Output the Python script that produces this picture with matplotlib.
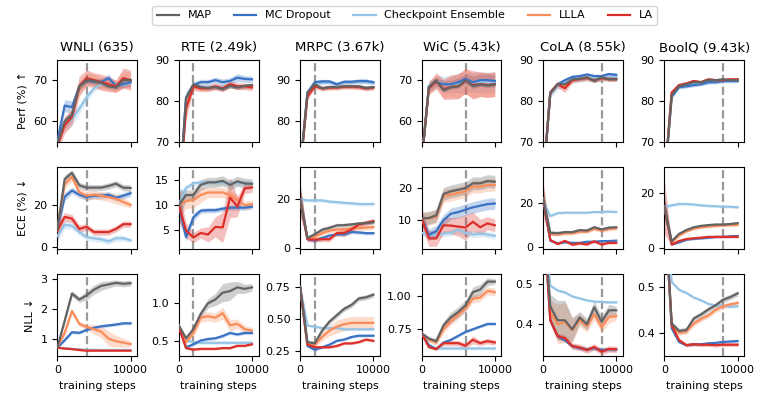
import numpy as np
import matplotlib
matplotlib.use('Agg')
import matplotlib.pyplot as plt
from matplotlib.lines import Line2D

# training steps
steps = [0, 1000, 2000, 3000, 4000, 5000, 6000, 7000, 8000, 9000, 10000]

methods = ['MAP', 'MC Dropout', 'Checkpoint Ensemble', 'LLLA', 'LA']
colors = ['#636363', '#3b73c4', '#95c4e6', '#fb8c5a', '#dc2f2a']

tasks = ['WNLI (635)', 'RTE (2.49k)', 'MRPC (3.67k)', 'WiC (5.43k)', 'CoLA (8.55k)', 'BoolQ (9.43k)']
best_step = [4000, 2000, 2000, 6000, 8000, 8000]
metrics = ['Perf (%) ↑', 'ECE (%) ↓', 'NLL ↓']

# ---- Perf (%) : rows = MAP, MC Dropout, Checkpoint Ensemble, LLLA, LA
wnli_perf = [[54.5, 60.0, 61.5, 68.5, 70.0, 69.8, 69.3, 68.5, 68.2, 70.0, 70.0],
             [55.0, 63.8, 63.4, 68.5, 70.0, 69.6, 69.6, 70.5, 68.6, 69.0, 69.5],
             [55.0, 59.0, 60.5, 63.0, 65.8, 68.0, 69.0, 69.0, 69.0, 68.8, 69.3],
             [54.5, 59.5, 61.3, 68.3, 70.3, 70.0, 69.3, 69.0, 68.5, 70.3, 70.0],
             [54.0, 59.0, 61.0, 68.5, 70.5, 70.0, 69.5, 69.0, 68.5, 70.5, 70.0]]
wnli_perf_sd = [[1, 1, 1, 0.8, 0.7, 0.6, 0.6, 0.6, 0.6, 0.6, 0.6],
                [1, 1.5, 1.5, 1, 0.8, 0.8, 0.8, 1, 0.8, 0.8, 0.8],
                [1, 1.5, 1.5, 1.2, 1, 0.8, 0.8, 0.8, 0.8, 0.8, 0.8],
                [1, 1.5, 1.5, 1.5, 1.5, 1.5, 1.5, 1.5, 1.5, 2, 2],
                [1.5, 2, 2, 2.5, 2, 1.8, 2, 1.8, 1.5, 2.5, 2.5]]
rte_perf = [[55, 80.5, 84.0, 83.3, 83.1, 83.3, 82.8, 83.6, 83.2, 83.6, 83.8],
            [55, 80.8, 83.8, 84.5, 84.5, 85.0, 84.5, 84.8, 85.6, 85.3, 85.2],
            [55, 80.0, 83.5, 83.3, 83.3, 83.4, 83.3, 83.5, 83.5, 83.5, 83.6],
            [55, 79.0, 83.5, 83.0, 83.0, 83.3, 82.9, 83.8, 83.4, 83.5, 83.4],
            [55, 78.0, 83.5, 83.0, 83.0, 83.5, 83.0, 84.0, 83.5, 83.5, 83.2]]
rte_perf_sd = [[1, 0.8, 0.5, 0.5, 0.5, 0.5, 0.5, 0.5, 0.5, 0.5, 0.5],
               [1, 1.5, 0.8, 0.7, 0.7, 0.7, 0.8, 0.8, 1.0, 0.8, 0.8],
               [1, 1, 0.5, 0.5, 0.5, 0.5, 0.5, 0.5, 0.5, 0.5, 0.5],
               [1, 1.5, 0.6, 0.6, 0.6, 0.6, 0.6, 0.6, 0.6, 0.6, 0.6],
               [1, 2.5, 1, 0.8, 0.8, 0.8, 0.8, 0.8, 0.8, 0.8, 0.8]]
mrpc_perf = [[68, 87.0, 89.0, 88.0, 88.3, 88.3, 88.5, 88.5, 88.5, 88.1, 88.3],
             [68, 87.0, 89.5, 89.7, 89.7, 89.0, 89.6, 89.6, 89.8, 89.8, 89.5],
             [68, 86.8, 89.3, 89.3, 89.4, 89.0, 89.3, 89.4, 89.5, 89.5, 89.3],
             [68, 86.5, 88.8, 88.0, 88.2, 88.3, 88.5, 88.4, 88.4, 88.1, 88.2],
             [68, 86.0, 88.5, 88.0, 88.2, 88.2, 88.4, 88.4, 88.3, 88.0, 88.2]]
mrpc_perf_sd = [[1, 0.5, 0.4, 0.4, 0.4, 0.4, 0.4, 0.4, 0.4, 0.4, 0.4],
                [1, 0.5, 0.5, 0.5, 0.5, 0.5, 0.5, 0.5, 0.5, 0.5, 0.5],
                [1, 0.5, 0.5, 0.5, 0.5, 0.5, 0.5, 0.5, 0.5, 0.5, 0.5],
                [1, 0.5, 0.5, 0.5, 0.5, 0.5, 0.5, 0.5, 0.5, 0.5, 0.5],
                [1, 0.8, 0.6, 0.6, 0.6, 0.6, 0.6, 0.6, 0.6, 0.6, 0.6]]
wic_perf = [[50, 68.3, 70.0, 67.5, 68.3, 68.5, 70.0, 68.6, 69.0, 68.7, 69.0],
            [50, 68.5, 69.5, 69.0, 69.0, 69.5, 70.3, 69.5, 70.0, 70.0, 69.8],
            [50, 68.5, 69.7, 69.0, 69.0, 69.3, 69.5, 69.5, 69.5, 69.5, 69.5],
            [50, 68.2, 69.8, 67.7, 68.3, 68.5, 69.8, 68.7, 69.0, 68.8, 69.0],
            [50, 68.0, 69.8, 67.8, 68.3, 68.5, 69.8, 68.8, 69.0, 68.8, 69.0]]
wic_perf_sd = [[1, 0.5, 0.5, 0.5, 0.5, 0.5, 0.5, 0.5, 0.5, 0.5, 0.5],
               [1, 1, 1, 1, 1, 1, 1.2, 1.5, 1.5, 1.5, 1.5],
               [1, 1.5, 1.5, 2, 2, 2.5, 2.5, 2.5, 2.5, 2.5, 2.5],
               [1, 1.5, 1.5, 2, 2.5, 3, 3, 3, 3, 3, 3],
               [1, 1.5, 2, 2.5, 3, 3, 3, 3.5, 3, 3, 3]]
cola_perf = [[60, 81.8, 84.0, 84.0, 85.2, 85.3, 85.7, 84.8, 85.7, 85.2, 85.2],
             [60, 82.0, 84.0, 85.0, 85.8, 86.0, 86.4, 86.0, 86.0, 86.5, 86.3],
             [60, 81.5, 83.5, 84.3, 85.0, 85.3, 85.5, 85.5, 85.5, 85.8, 85.8],
             [60, 81.8, 84.0, 83.5, 85.0, 85.3, 85.6, 84.9, 85.6, 85.3, 85.2],
             [60, 82.0, 84.0, 83.0, 85.0, 85.3, 85.5, 85.0, 85.5, 85.3, 85.3]]
cola_perf_sd = [[1, 0.4, 0.4, 0.4, 0.4, 0.4, 0.4, 0.4, 0.4, 0.4, 0.4],
                [1, 0.4, 0.4, 0.4, 0.4, 0.4, 0.4, 0.4, 0.4, 0.4, 0.4],
                [1, 0.8, 0.8, 0.8, 0.8, 0.8, 0.8, 0.8, 0.8, 0.8, 0.8],
                [1, 0.5, 0.5, 0.5, 0.5, 0.5, 0.5, 0.5, 0.5, 0.5, 0.5],
                [1, 0.8, 0.8, 1, 0.6, 0.6, 0.6, 0.6, 0.6, 0.6, 0.6]]
boolq_perf = [[60, 81.3, 83.5, 84.0, 84.5, 84.5, 85.0, 85.0, 85.2, 85.0, 85.0],
              [60, 81.0, 83.3, 83.5, 83.8, 84.0, 84.5, 84.5, 84.8, 84.8, 84.8],
              [60, 81.0, 83.3, 83.7, 84.0, 84.2, 84.5, 84.7, 84.8, 84.8, 84.8],
              [60, 81.8, 83.7, 84.1, 84.7, 84.5, 85.1, 85.0, 85.1, 85.1, 85.1],
              [60, 82.0, 83.8, 84.2, 84.8, 84.5, 85.2, 85.0, 85.0, 85.2, 85.2]]
boolq_perf_sd = [[1, 0.3, 0.3, 0.3, 0.3, 0.3, 0.3, 0.3, 0.3, 0.3, 0.3],
                 [1, 0.4, 0.4, 0.4, 0.4, 0.4, 0.4, 0.4, 0.4, 0.4, 0.4],
                 [1, 0.5, 0.5, 0.5, 0.5, 0.5, 0.5, 0.5, 0.5, 0.5, 0.5],
                 [1, 0.3, 0.3, 0.3, 0.3, 0.3, 0.3, 0.3, 0.3, 0.3, 0.3],
                 [1, 0.4, 0.4, 0.4, 0.4, 0.4, 0.4, 0.4, 0.4, 0.4, 0.4]]

# ---- ECE (%)
wnli_ece = [[8, 32.5, 35.5, 29.5, 28.4, 28.4, 28.4, 29.2, 30.3, 28.4, 28.2],
            [8, 24.0, 27.0, 25.0, 23.8, 24.5, 24.5, 25.0, 23.5, 24.5, 25.7],
            [5, 10.5, 10.0, 7.0, 4.5, 4.0, 3.5, 2.5, 4.0, 4.0, 3.0],
            [8, 30.0, 33.5, 26.2, 24.5, 25.0, 24.5, 23.8, 23.0, 21.5, 20.0],
            [7.5, 14.3, 13.5, 8.5, 9.5, 7.0, 7.0, 7.0, 8.5, 10.8, 10.8]]
wnli_ece_sd = [[5, 2, 1.5, 1.5, 1.5, 1.5, 1.5, 1.5, 1.5, 1.5, 1.5],
               [4, 2, 1.5, 1.5, 1.5, 1.5, 1.5, 1.5, 1.5, 1.5, 1.5],
               [3, 2, 1.5, 1.5, 1.5, 1.5, 1.5, 1.5, 1.5, 1.5, 1],
               [5, 2, 2, 2, 2, 2, 2, 2, 2.5, 2, 1.5],
               [4, 2, 2, 2, 1.5, 1.5, 1.5, 1.5, 1.5, 1.5, 1.5]]
rte_ece = [[10, 12.0, 12.0, 14.0, 14.5, 14.5, 14.8, 14.0, 14.7, 14.3, 14.2],
           [10, 3.7, 7.6, 8.9, 9.0, 9.0, 9.3, 9.5, 9.5, 9.5, 9.7],
           [10, 13.4, 14.3, 14.5, 14.5, 14.5, 14.5, 14.3, 14.4, 14.4, 14.3],
           [10, 10.8, 11.0, 12.0, 12.5, 12.5, 12.5, 12.0, 11.0, 10.0, 10.2],
           [10, 5.0, 3.6, 4.5, 4.2, 5.7, 5.6, 11.5, 9.7, 13.3, 13.5]]
rte_ece_sd = [[3, 1, 1, 1, 1, 1, 1, 1, 1, 1, 1],
              [3, 0.8, 0.8, 0.5, 0.5, 0.5, 0.5, 0.5, 0.5, 0.5, 0.5],
              [3, 0.5, 0.5, 0.5, 0.5, 0.5, 0.5, 0.5, 0.5, 0.5, 0.5],
              [3, 1.5, 1.5, 1.5, 1, 1, 1, 1, 1, 0.8, 0.8],
              [3, 1.5, 1, 1, 1.5, 2, 3, 4, 2, 1, 1]]
mrpc_ece = [[20, 4.0, 5.5, 7.4, 8.2, 9.2, 9.3, 9.6, 10.0, 10.1, 10.5],
            [20, 3.5, 3.0, 4.0, 5.0, 5.5, 5.5, 6.5, 6.3, 6.0, 6.0],
            [20, 19.5, 19.5, 19.5, 19.0, 18.8, 18.5, 18.3, 18.0, 18.0, 18.0],
            [20, 3.5, 4.5, 6.0, 7.0, 7.5, 7.6, 8.0, 8.1, 8.3, 8.5],
            [20, 3.5, 3.3, 3.5, 3.5, 6.0, 6.1, 7.5, 9.5, 10.3, 11.0]]
mrpc_ece_sd = [[6, 1, 1, 1, 0.8, 0.8, 0.8, 0.8, 0.8, 0.8, 0.8],
               [5, 0.7, 0.7, 0.7, 0.7, 0.7, 0.7, 0.7, 0.7, 0.7, 0.7],
               [1, 0.7, 0.7, 0.7, 0.7, 0.7, 0.7, 0.7, 0.7, 0.7, 0.7],
               [5, 1, 1, 1, 1, 1, 1, 1, 1, 1, 1],
               [7, 1, 1, 1, 1, 1, 1.5, 1.5, 1, 1, 1]]
wic_ece = [[10.5, 10.7, 11.5, 18.2, 19.0, 19.5, 20.0, 21.5, 21.5, 22.2, 22.0],
           [10.5, 5.4, 6.6, 10.0, 12.0, 12.5, 13.3, 14.0, 14.5, 15.0, 15.2],
           [6.0, 5.5, 5.4, 5.8, 6.0, 7.0, 6.0, 5.5, 5.8, 5.5, 5.1],
           [10.5, 10.5, 11.0, 17.5, 18.0, 18.5, 19.0, 20.5, 20.5, 21.0, 21.0],
           [10.5, 4.3, 4.3, 8.4, 8.3, 8.0, 7.7, 9.5, 7.8, 9.0, 8.4]]
wic_ece_sd = [[2, 2, 2, 2, 2, 2, 2, 2, 2, 2, 2],
              [1.8, 1.8, 1.8, 1.8, 1.8, 1.8, 1.8, 1.8, 1.8, 1.8, 1.8],
              [1, 1, 1, 1, 1, 1, 1, 1, 1, 1, 1],
              [2, 2, 2, 2, 2, 2, 2, 2, 2, 2, 2],
              [3, 2.5, 2.5, 2.5, 2.5, 3, 4, 3, 2.5, 2, 2]]
cola_ece = [[22, 6.5, 6.3, 6.8, 6.8, 7.7, 7.5, 9.0, 8.0, 8.8, 9.0],
            [22, 3.0, 1.8, 2.3, 2.0, 2.0, 2.5, 2.5, 2.8, 2.8, 3.0],
            [21, 14.0, 15.3, 15.5, 15.5, 15.5, 15.5, 15.8, 15.8, 16.0, 15.8],
            [22, 6.0, 5.8, 6.3, 6.3, 7.0, 7.0, 8.3, 7.5, 8.2, 8.5],
            [22, 3.3, 1.5, 2.9, 1.2, 1.8, 1.3, 2.7, 1.3, 2.0, 2.0]]
cola_ece_sd = [[6, 1, 1, 0.8, 0.8, 0.8, 0.8, 0.8, 0.8, 0.8, 0.8],
               [5, 0.5, 0.5, 0.5, 0.5, 0.5, 0.5, 0.5, 0.5, 0.5, 0.5],
               [2, 0.5, 0.5, 0.5, 0.5, 0.5, 0.5, 0.5, 0.5, 0.5, 0.5],
               [6, 0.8, 0.8, 0.8, 0.8, 0.8, 0.8, 0.8, 0.8, 0.8, 0.8],
               [8, 0.6, 0.6, 0.6, 0.6, 0.6, 0.6, 0.6, 0.6, 0.6, 0.6]]
boolq_ece = [[15, 2.4, 5.1, 6.5, 7.5, 8.0, 8.3, 8.5, 8.5, 8.7, 9.0],
             [15, 1.3, 2.0, 3.0, 3.3, 3.5, 3.7, 4.0, 4.0, 4.2, 4.3],
             [15, 15.5, 16.0, 16.0, 15.8, 15.5, 15.3, 15.2, 15.0, 15.0, 14.8],
             [15, 2.0, 4.5, 6.0, 7.0, 7.5, 7.8, 8.0, 8.2, 8.3, 8.4],
             [15, 1.2, 2.5, 3.2, 3.5, 3.7, 4.0, 4.0, 4.0, 4.0, 4.0]]
boolq_ece_sd = [[5, 0.5, 0.5, 0.5, 0.5, 0.5, 0.5, 0.5, 0.5, 0.5, 0.5],
                [4, 0.4, 0.4, 0.4, 0.4, 0.4, 0.4, 0.4, 0.4, 0.4, 0.4],
                [1, 0.5, 0.5, 0.5, 0.5, 0.5, 0.5, 0.5, 0.5, 0.5, 0.5],
                [5, 0.5, 0.5, 0.5, 0.5, 0.5, 0.5, 0.5, 0.5, 0.5, 0.5],
                [10, 0.4, 0.4, 0.4, 0.4, 0.4, 0.4, 0.4, 0.4, 0.4, 0.4]]

# ---- NLL
wnli_nll = [[0.7, 1.6, 2.52, 2.32, 2.46, 2.65, 2.78, 2.83, 2.88, 2.85, 2.87],
            [0.7, 0.95, 1.22, 1.2, 1.3, 1.37, 1.42, 1.45, 1.48, 1.52, 1.52],
            [0.7, 0.68, 0.66, 0.65, 0.63, 0.63, 0.62, 0.62, 0.62, 0.62, 0.62],
            [0.7, 1.2, 1.93, 1.5, 1.4, 1.32, 1.24, 1.0, 0.92, 0.87, 0.82],
            [0.7, 0.67, 0.65, 0.62, 0.6, 0.6, 0.6, 0.6, 0.6, 0.6, 0.6]]
wnli_nll_sd = [[0.03, 0.1, 0.1, 0.1, 0.15, 0.15, 0.15, 0.12, 0.1, 0.1, 0.1],
               [0.03, 0.05, 0.05, 0.05, 0.05, 0.05, 0.05, 0.05, 0.05, 0.05, 0.05],
               [0.02, 0.02, 0.02, 0.02, 0.02, 0.02, 0.02, 0.02, 0.02, 0.02, 0.02],
               [0.03, 0.1, 0.1, 0.08, 0.1, 0.15, 0.2, 0.25, 0.2, 0.15, 0.1],
               [0.02, 0.02, 0.02, 0.02, 0.02, 0.02, 0.02, 0.02, 0.02, 0.02, 0.02]]
rte_nll = [[0.7, 0.53, 0.65, 0.85, 0.99, 1.04, 1.13, 1.15, 1.2, 1.18, 1.2],
           [0.7, 0.41, 0.45, 0.5, 0.52, 0.53, 0.56, 0.6, 0.58, 0.6, 0.6],
           [0.7, 0.5, 0.48, 0.47, 0.47, 0.47, 0.47, 0.47, 0.47, 0.47, 0.47],
           [0.7, 0.48, 0.6, 0.8, 0.82, 0.8, 0.86, 0.7, 0.72, 0.65, 0.63],
           [0.68, 0.4, 0.38, 0.39, 0.39, 0.39, 0.4, 0.4, 0.43, 0.43, 0.45]]
rte_nll_sd = [[0.02, 0.03, 0.05, 0.05, 0.06, 0.08, 0.12, 0.12, 0.08, 0.06, 0.05],
              [0.02, 0.02, 0.02, 0.02, 0.02, 0.02, 0.02, 0.02, 0.02, 0.02, 0.02],
              [0.02, 0.02, 0.02, 0.02, 0.02, 0.02, 0.02, 0.02, 0.02, 0.02, 0.02],
              [0.02, 0.03, 0.05, 0.06, 0.06, 0.06, 0.08, 0.08, 0.06, 0.05, 0.04],
              [0.015, 0.015, 0.015, 0.015, 0.015, 0.015, 0.015, 0.015, 0.015, 0.015, 0.015]]
mrpc_nll = [[0.75, 0.32, 0.31, 0.41, 0.48, 0.53, 0.58, 0.61, 0.66, 0.67, 0.69],
            [0.75, 0.29, 0.26, 0.28, 0.3, 0.33, 0.34, 0.36, 0.37, 0.37, 0.37],
            [0.75, 0.45, 0.44, 0.43, 0.43, 0.43, 0.42, 0.42, 0.42, 0.42, 0.42],
            [0.75, 0.3, 0.3, 0.36, 0.41, 0.44, 0.46, 0.47, 0.47, 0.47, 0.47],
            [0.75, 0.3, 0.28, 0.28, 0.28, 0.29, 0.31, 0.31, 0.32, 0.34, 0.33]]
mrpc_nll_sd = [[0.02, 0.015, 0.02, 0.02, 0.02, 0.02, 0.02, 0.02, 0.02, 0.02, 0.02],
               [0.02, 0.01, 0.01, 0.01, 0.01, 0.01, 0.01, 0.01, 0.01, 0.01, 0.01],
               [0.02, 0.01, 0.01, 0.01, 0.01, 0.01, 0.01, 0.01, 0.01, 0.01, 0.01],
               [0.02, 0.01, 0.02, 0.03, 0.04, 0.05, 0.05, 0.05, 0.05, 0.05, 0.05],
               [0.02, 0.01, 0.01, 0.01, 0.01, 0.01, 0.01, 0.01, 0.01, 0.01, 0.01]]
wic_nll = [[0.72, 0.68, 0.66, 0.78, 0.84, 0.88, 0.93, 1.03, 1.05, 1.11, 1.11],
           [0.72, 0.63, 0.6, 0.65, 0.67, 0.7, 0.73, 0.75, 0.77, 0.79, 0.79],
           [0.72, 0.62, 0.605, 0.605, 0.605, 0.605, 0.605, 0.605, 0.605, 0.605, 0.605],
           [0.72, 0.67, 0.65, 0.75, 0.81, 0.86, 0.91, 0.98, 0.99, 1.04, 1.03],
           [0.72, 0.615, 0.6, 0.645, 0.645, 0.645, 0.625, 0.67, 0.645, 0.66, 0.65]]
wic_nll_sd = [[0.01, 0.01, 0.02, 0.03, 0.04, 0.04, 0.04, 0.04, 0.04, 0.03, 0.02],
              [0.01, 0.01, 0.01, 0.01, 0.01, 0.01, 0.01, 0.01, 0.01, 0.01, 0.01],
              [0.01, 0.01, 0.01, 0.01, 0.01, 0.01, 0.01, 0.01, 0.01, 0.01, 0.01],
              [0.01, 0.02, 0.02, 0.03, 0.03, 0.03, 0.03, 0.03, 0.03, 0.03, 0.03],
              [0.01, 0.01, 0.01, 0.02, 0.02, 0.02, 0.02, 0.03, 0.02, 0.02, 0.02]]
cola_nll = [[0.69, 0.445, 0.41, 0.41, 0.387, 0.417, 0.4, 0.443, 0.406, 0.435, 0.435],
            [0.69, 0.41, 0.37, 0.36, 0.345, 0.34, 0.337, 0.34, 0.335, 0.337, 0.337],
            [0.69, 0.497, 0.485, 0.48, 0.47, 0.465, 0.46, 0.457, 0.456, 0.455, 0.455],
            [0.69, 0.43, 0.4, 0.405, 0.385, 0.41, 0.395, 0.425, 0.393, 0.418, 0.42],
            [0.69, 0.41, 0.37, 0.365, 0.345, 0.342, 0.335, 0.343, 0.331, 0.338, 0.337]]
cola_nll_sd = [[0.02, 0.03, 0.05, 0.05, 0.03, 0.015, 0.015, 0.015, 0.015, 0.015, 0.01],
               [0.02, 0.005, 0.005, 0.005, 0.005, 0.005, 0.005, 0.005, 0.005, 0.005, 0.005],
               [0.02, 0.003, 0.003, 0.003, 0.003, 0.003, 0.003, 0.003, 0.003, 0.003, 0.003],
               [0.02, 0.03, 0.05, 0.05, 0.03, 0.015, 0.015, 0.015, 0.015, 0.015, 0.01],
               [0.02, 0.008, 0.008, 0.008, 0.008, 0.008, 0.008, 0.008, 0.008, 0.008, 0.008]]
boolq_nll = [[0.69, 0.42, 0.404, 0.406, 0.431, 0.44, 0.451, 0.46, 0.472, 0.478, 0.486],
             [0.69, 0.41, 0.38, 0.373, 0.375, 0.375, 0.377, 0.378, 0.38, 0.381, 0.382],
             [0.69, 0.511, 0.494, 0.487, 0.477, 0.471, 0.463, 0.46, 0.459, 0.457, 0.458],
             [0.69, 0.415, 0.4, 0.403, 0.42, 0.43, 0.438, 0.45, 0.458, 0.462, 0.465],
             [0.69, 0.417, 0.384, 0.373, 0.375, 0.374, 0.374, 0.373, 0.374, 0.374, 0.374]]
boolq_nll_sd = [[0.02, 0.006, 0.006, 0.006, 0.006, 0.006, 0.006, 0.006, 0.006, 0.006, 0.006],
                [0.02, 0.003, 0.003, 0.003, 0.003, 0.003, 0.003, 0.003, 0.003, 0.003, 0.003],
                [0.02, 0.003, 0.003, 0.003, 0.003, 0.003, 0.003, 0.003, 0.003, 0.003, 0.003],
                [0.02, 0.006, 0.006, 0.006, 0.006, 0.006, 0.006, 0.006, 0.006, 0.006, 0.006],
                [0.02, 0.004, 0.004, 0.004, 0.004, 0.004, 0.004, 0.004, 0.004, 0.004, 0.004]]

grid = [[(wnli_perf, wnli_perf_sd), (rte_perf, rte_perf_sd), (mrpc_perf, mrpc_perf_sd),
         (wic_perf, wic_perf_sd), (cola_perf, cola_perf_sd), (boolq_perf, boolq_perf_sd)],
        [(wnli_ece, wnli_ece_sd), (rte_ece, rte_ece_sd), (mrpc_ece, mrpc_ece_sd),
         (wic_ece, wic_ece_sd), (cola_ece, cola_ece_sd), (boolq_ece, boolq_ece_sd)],
        [(wnli_nll, wnli_nll_sd), (rte_nll, rte_nll_sd), (mrpc_nll, mrpc_nll_sd),
         (wic_nll, wic_nll_sd), (cola_nll, cola_nll_sd), (boolq_nll, boolq_nll_sd)]]

# axis limits and ticks
ylims = [[(55, 75), (70, 90), (75, 95), (55, 75), (70, 90), (70, 90)],
         [(-1, 38.5), (1.4, 17.6), (-0.4, 33.4), (1.1, 26.7), (-0.6, 36.1), (-0.3, 29.6)],
         [(0.43, 3.19), (0.30, 1.38), (0.214, 0.854), (0.55, 1.17), (0.321, 0.527), (0.35, 0.529)]]
yticks = [[[60, 70], [70, 80, 90], [80, 90], [60, 70], [70, 80, 90], [70, 80, 90]],
          [[0, 20], [5, 10, 15], [0, 20], [10, 20], [0, 20], [0, 20]],
          [[1, 2, 3], [0.5, 1.0], [0.25, 0.5, 0.75], [0.75, 1.0], [0.4, 0.5], [0.4, 0.5]]]
ytick_labels = [[None] * 6, [None] * 6,
                [['1', '2', '3'], ['0.5', '1.0'], ['0.25', '0.50', '0.75'],
                 ['0.75', '1.00'], ['0.4', '0.5'], ['0.4', '0.5']]]

draw_order = [2, 1, 3, 4, 0]  # MAP on top

fig, axes = plt.subplots(3, 6, figsize=(7.61, 3.95), dpi=100)
fig.subplots_adjust(left=0.0753, right=0.978, top=0.849, bottom=0.0995,
                    wspace=0.52, hspace=0.305)

for r in range(3):
    for c in range(6):
        ax = axes[r, c]
        vals, sds = grid[r][c]
        ax.axvline(best_step[c], color='#999999', ls='--', lw=1.6, zorder=1)
        for k in draw_order:
            m = np.array(vals[k])
            s = np.array(sds[k])
            ax.fill_between(steps, m - s, m + s, color=colors[k], alpha=0.3, lw=0, zorder=2)
            ax.plot(steps, m, color=colors[k], lw=1.6, zorder=3)
        ax.set_xlim(0, 10900)
        ax.set_ylim(*ylims[r][c])
        ax.set_yticks(yticks[r][c])
        if ytick_labels[r][c] is not None:
            ax.set_yticklabels(ytick_labels[r][c])
        ax.set_xticks([0, 10000])
        ax.tick_params(labelsize=8)
        if r < 2:
            ax.set_xticklabels([])
        else:
            ax.set_xlabel('training steps', fontsize=8)
        if r == 0:
            ax.set_title(tasks[c], fontsize=9.5)
        if c == 0:
            ax.set_ylabel(metrics[r], fontsize=8)

handles = [Line2D([0], [0], color=colors[k], lw=1.6) for k in range(5)]
fig.legend(handles, methods, loc='center', bbox_to_anchor=(0.532, 0.961),
           ncol=5, fontsize=8, frameon=True)

plt.savefig('out.png', dpi=100)
